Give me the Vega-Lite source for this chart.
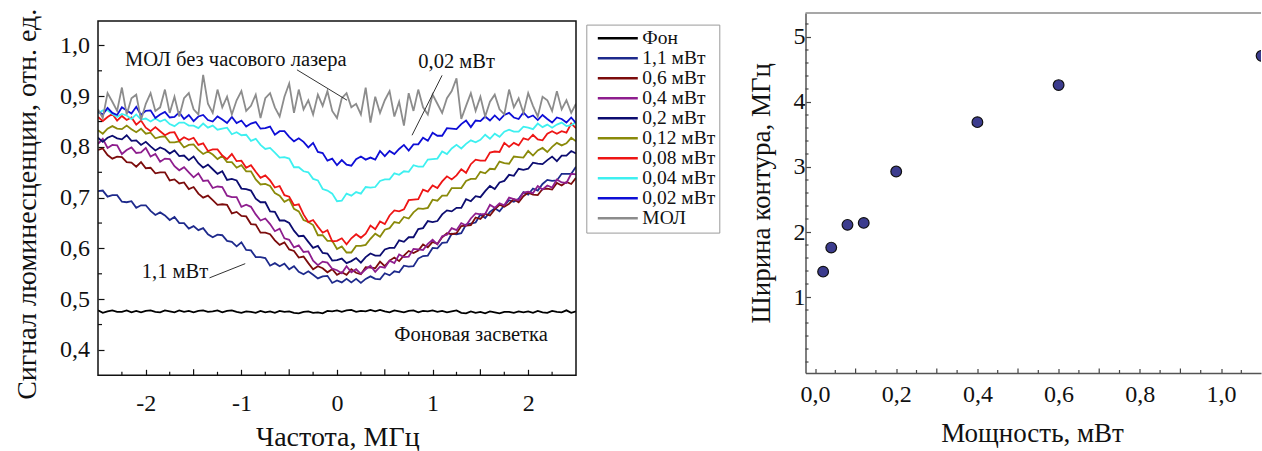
{
"$schema": "https://vega.github.io/schema/vega-lite/v6.json",
"background": "white",
"padding": {"left": 13, "top": 8, "right": 0, "bottom": 0},
"spacing": 169.5,
"config": {
  "font": "Liberation Serif",
  "view": {"stroke": null},
  "axis": {"grid": false, "labelFont": "Liberation Serif", "titleFont": "Liberation Serif", "labelColor": "#111", "titleColor": "#111", "titleFontWeight": "normal", "labelFontSize": 24, "titleFontSize": 28, "labelOverlap": false, "labelFlush": false, "labelBound": false, "tickColor": "#111", "tickWidth": 1.2}
},
"hconcat": [
{
  "width": 478, "height": 362.3,
  "data": {"values": [
{"x":-2.5,"f":0.478,"p11":0.713,"p06":0.794,"p04":0.806,"p02":0.818,"p012":0.833,"p008":0.859,"p004":0.866,"p002":0.870,"m":0.874},
{"x":-2.45,"f":0.473,"p11":0.714,"p06":0.797,"p04":0.816,"p02":0.810,"p012":0.826,"p008":0.851,"p004":0.872,"p002":0.864,"m":0.857},
{"x":-2.4,"f":0.476,"p11":0.702,"p06":0.784,"p04":0.798,"p02":0.818,"p012":0.836,"p008":0.859,"p004":0.872,"p002":0.877,"m":0.906},
{"x":-2.35,"f":0.478,"p11":0.705,"p06":0.777,"p04":0.804,"p02":0.822,"p012":0.841,"p008":0.865,"p004":0.865,"p002":0.867,"m":0.889},
{"x":-2.3,"f":0.475,"p11":0.705,"p06":0.781,"p04":0.803,"p02":0.817,"p012":0.836,"p008":0.852,"p004":0.859,"p002":0.863,"m":0.871},
{"x":-2.25,"f":0.475,"p11":0.692,"p06":0.780,"p04":0.786,"p02":0.815,"p012":0.835,"p008":0.861,"p004":0.865,"p002":0.878,"m":0.917},
{"x":-2.2,"f":0.478,"p11":0.691,"p06":0.770,"p04":0.794,"p02":0.823,"p012":0.842,"p008":0.853,"p004":0.862,"p002":0.872,"m":0.864},
{"x":-2.15,"f":0.474,"p11":0.693,"p06":0.769,"p04":0.799,"p02":0.812,"p012":0.835,"p008":0.858,"p004":0.855,"p002":0.866,"m":0.896},
{"x":-2.1,"f":0.477,"p11":0.680,"p06":0.761,"p04":0.788,"p02":0.813,"p012":0.829,"p008":0.844,"p004":0.864,"p002":0.879,"m":0.903},
{"x":-2.05,"f":0.474,"p11":0.685,"p06":0.770,"p04":0.789,"p02":0.804,"p012":0.836,"p008":0.852,"p004":0.854,"p002":0.863,"m":0.853},
{"x":-2.0,"f":0.477,"p11":0.685,"p06":0.758,"p04":0.798,"p02":0.810,"p012":0.826,"p008":0.838,"p004":0.856,"p002":0.871,"m":0.885},
{"x":-1.95,"f":0.478,"p11":0.674,"p06":0.759,"p04":0.781,"p02":0.801,"p012":0.828,"p008":0.831,"p004":0.850,"p002":0.872,"m":0.906},
{"x":-1.9,"f":0.475,"p11":0.666,"p06":0.748,"p04":0.786,"p02":0.793,"p012":0.817,"p008":0.839,"p004":0.856,"p002":0.857,"m":0.871},
{"x":-1.85,"f":0.474,"p11":0.671,"p06":0.750,"p04":0.771,"p02":0.799,"p012":0.820,"p008":0.831,"p004":0.850,"p002":0.864,"m":0.878},
{"x":-1.8,"f":0.478,"p11":0.665,"p06":0.750,"p04":0.777,"p02":0.795,"p012":0.821,"p008":0.823,"p004":0.854,"p002":0.869,"m":0.913},
{"x":-1.75,"f":0.476,"p11":0.656,"p06":0.734,"p04":0.776,"p02":0.787,"p012":0.809,"p008":0.828,"p004":0.845,"p002":0.858,"m":0.867},
{"x":-1.7,"f":0.474,"p11":0.662,"p06":0.736,"p04":0.762,"p02":0.793,"p012":0.809,"p008":0.829,"p004":0.841,"p002":0.859,"m":0.899},
{"x":-1.65,"f":0.478,"p11":0.650,"p06":0.728,"p04":0.754,"p02":0.782,"p012":0.811,"p008":0.812,"p004":0.848,"p002":0.868,"m":0.860},
{"x":-1.6,"f":0.475,"p11":0.650,"p06":0.730,"p04":0.760,"p02":0.783,"p012":0.799,"p008":0.819,"p004":0.848,"p002":0.855,"m":0.896},
{"x":-1.55,"f":0.477,"p11":0.639,"p06":0.717,"p04":0.750,"p02":0.774,"p012":0.804,"p008":0.814,"p004":0.842,"p002":0.863,"m":0.906},
{"x":-1.5,"f":0.474,"p11":0.644,"p06":0.721,"p04":0.740,"p02":0.781,"p012":0.805,"p008":0.818,"p004":0.842,"p002":0.851,"m":0.874},
{"x":-1.45,"f":0.477,"p11":0.636,"p06":0.708,"p04":0.748,"p02":0.768,"p012":0.794,"p008":0.804,"p004":0.837,"p002":0.860,"m":0.864},
{"x":-1.4,"f":0.478,"p11":0.640,"p06":0.700,"p04":0.733,"p02":0.759,"p012":0.786,"p008":0.807,"p004":0.846,"p002":0.863,"m":0.942},
{"x":-1.35,"f":0.475,"p11":0.628,"p06":0.704,"p04":0.734,"p02":0.765,"p012":0.791,"p008":0.792,"p004":0.838,"p002":0.853,"m":0.885},
{"x":-1.3,"f":0.476,"p11":0.622,"p06":0.695,"p04":0.719,"p02":0.756,"p012":0.785,"p008":0.795,"p004":0.842,"p002":0.850,"m":0.867},
{"x":-1.25,"f":0.478,"p11":0.627,"p06":0.686,"p04":0.722,"p02":0.747,"p012":0.776,"p008":0.795,"p004":0.834,"p002":0.860,"m":0.913},
{"x":-1.2,"f":0.474,"p11":0.626,"p06":0.687,"p04":0.721,"p02":0.752,"p012":0.782,"p008":0.783,"p004":0.836,"p002":0.854,"m":0.878},
{"x":-1.15,"f":0.477,"p11":0.615,"p06":0.686,"p04":0.704,"p02":0.735,"p012":0.770,"p008":0.776,"p004":0.838,"p002":0.847,"m":0.899},
{"x":-1.1,"f":0.478,"p11":0.613,"p06":0.669,"p04":0.701,"p02":0.737,"p012":0.770,"p008":0.786,"p004":0.825,"p002":0.859,"m":0.864},
{"x":-1.05,"f":0.475,"p11":0.604,"p06":0.672,"p04":0.701,"p02":0.734,"p012":0.759,"p008":0.772,"p004":0.829,"p002":0.847,"m":0.892},
{"x":-1.0,"f":0.473,"p11":0.612,"p06":0.664,"p04":0.682,"p02":0.718,"p012":0.764,"p008":0.773,"p004":0.823,"p002":0.852,"m":0.910},
{"x":-0.95,"f":0.476,"p11":0.597,"p06":0.663,"p04":0.686,"p02":0.717,"p012":0.752,"p008":0.759,"p004":0.824,"p002":0.840,"m":0.871},
{"x":-0.9,"f":0.475,"p11":0.596,"p06":0.648,"p04":0.682,"p02":0.714,"p012":0.752,"p008":0.764,"p004":0.812,"p002":0.846,"m":0.881},
{"x":-0.85,"f":0.473,"p11":0.583,"p06":0.647,"p04":0.667,"p02":0.698,"p012":0.736,"p008":0.751,"p004":0.816,"p002":0.849,"m":0.903},
{"x":-0.8,"f":0.477,"p11":0.583,"p06":0.631,"p04":0.655,"p02":0.691,"p012":0.726,"p008":0.739,"p004":0.804,"p002":0.836,"m":0.857},
{"x":-0.75,"f":0.474,"p11":0.581,"p06":0.631,"p04":0.659,"p02":0.691,"p012":0.727,"p008":0.744,"p004":0.796,"p002":0.837,"m":0.896},
{"x":-0.7,"f":0.476,"p11":0.566,"p06":0.628,"p04":0.648,"p02":0.673,"p012":0.723,"p008":0.734,"p004":0.798,"p002":0.840,"m":0.906},
{"x":-0.65,"f":0.473,"p11":0.571,"p06":0.616,"p04":0.634,"p02":0.672,"p012":0.709,"p008":0.720,"p004":0.789,"p002":0.824,"m":0.878},
{"x":-0.6,"f":0.477,"p11":0.565,"p06":0.607,"p04":0.639,"p02":0.655,"p012":0.704,"p008":0.723,"p004":0.779,"p002":0.831,"m":0.860},
{"x":-0.55,"f":0.475,"p11":0.570,"p06":0.612,"p04":0.620,"p02":0.655,"p012":0.692,"p008":0.705,"p004":0.780,"p002":0.831,"m":0.899},
{"x":-0.5,"f":0.476,"p11":0.559,"p06":0.598,"p04":0.617,"p02":0.650,"p012":0.697,"p008":0.702,"p004":0.777,"p002":0.820,"m":0.925},
{"x":-0.45,"f":0.473,"p11":0.565,"p06":0.595,"p04":0.602,"p02":0.635,"p012":0.678,"p008":0.685,"p004":0.760,"p002":0.811,"m":0.867},
{"x":-0.4,"f":0.472,"p11":0.554,"p06":0.582,"p04":0.606,"p02":0.624,"p012":0.673,"p008":0.687,"p004":0.760,"p002":0.817,"m":0.913},
{"x":-0.35,"f":0.475,"p11":0.549,"p06":0.584,"p04":0.593,"p02":0.625,"p012":0.656,"p008":0.667,"p004":0.752,"p002":0.810,"m":0.874},
{"x":-0.3,"f":0.476,"p11":0.555,"p06":0.571,"p04":0.594,"p02":0.613,"p012":0.652,"p008":0.652,"p004":0.750,"p002":0.799,"m":0.892},
{"x":-0.25,"f":0.473,"p11":0.548,"p06":0.559,"p04":0.576,"p02":0.601,"p012":0.646,"p008":0.656,"p004":0.737,"p002":0.808,"m":0.864},
{"x":-0.2,"f":0.474,"p11":0.541,"p06":0.565,"p04":0.567,"p02":0.605,"p012":0.626,"p008":0.643,"p004":0.734,"p002":0.790,"m":0.903},
{"x":-0.15,"f":0.472,"p11":0.545,"p06":0.561,"p04":0.574,"p02":0.591,"p012":0.626,"p008":0.631,"p004":0.717,"p002":0.788,"m":0.881},
{"x":-0.1,"f":0.477,"p11":0.546,"p06":0.553,"p04":0.572,"p02":0.590,"p012":0.615,"p008":0.636,"p004":0.714,"p002":0.773,"m":0.910},
{"x":-0.05,"f":0.476,"p11":0.532,"p06":0.559,"p04":0.560,"p02":0.576,"p012":0.615,"p008":0.614,"p004":0.708,"p002":0.777,"m":0.871},
{"x":0.0,"f":0.478,"p11":0.537,"p06":0.548,"p04":0.557,"p02":0.577,"p012":0.599,"p008":0.615,"p004":0.693,"p002":0.764,"m":0.857},
{"x":0.05,"f":0.475,"p11":0.533,"p06":0.553,"p04":0.551,"p02":0.580,"p012":0.604,"p008":0.620,"p004":0.694,"p002":0.774,"m":0.896},
{"x":0.1,"f":0.478,"p11":0.540,"p06":0.548,"p04":0.565,"p02":0.571,"p012":0.592,"p008":0.608,"p004":0.708,"p002":0.765,"m":0.906},
{"x":0.15,"f":0.479,"p11":0.533,"p06":0.559,"p04":0.553,"p02":0.575,"p012":0.592,"p008":0.620,"p004":0.704,"p002":0.763,"m":0.878},
{"x":0.2,"f":0.475,"p11":0.540,"p06":0.552,"p04":0.559,"p02":0.581,"p012":0.605,"p008":0.628,"p004":0.711,"p002":0.776,"m":0.885},
{"x":0.25,"f":0.477,"p11":0.532,"p06":0.549,"p04":0.550,"p02":0.572,"p012":0.605,"p008":0.621,"p004":0.708,"p002":0.781,"m":0.864},
{"x":0.3,"f":0.476,"p11":0.540,"p06":0.563,"p04":0.559,"p02":0.583,"p012":0.607,"p008":0.629,"p004":0.721,"p002":0.775,"m":0.917},
{"x":0.35,"f":0.479,"p11":0.545,"p06":0.562,"p04":0.566,"p02":0.590,"p012":0.619,"p008":0.645,"p004":0.720,"p002":0.779,"m":0.848},
{"x":0.4,"f":0.476,"p11":0.540,"p06":0.561,"p04":0.554,"p02":0.586,"p012":0.629,"p008":0.638,"p004":0.721,"p002":0.775,"m":0.899},
{"x":0.45,"f":0.479,"p11":0.539,"p06":0.574,"p04":0.564,"p02":0.586,"p012":0.623,"p008":0.653,"p004":0.733,"p002":0.792,"m":0.867},
{"x":0.5,"f":0.476,"p11":0.551,"p06":0.565,"p04":0.562,"p02":0.598,"p012":0.637,"p008":0.648,"p004":0.736,"p002":0.782,"m":0.892},
{"x":0.55,"f":0.474,"p11":0.547,"p06":0.576,"p04":0.576,"p02":0.601,"p012":0.640,"p008":0.665,"p004":0.736,"p002":0.792,"m":0.910},
{"x":0.6,"f":0.478,"p11":0.555,"p06":0.582,"p04":0.571,"p02":0.601,"p012":0.652,"p008":0.675,"p004":0.748,"p002":0.786,"m":0.860},
{"x":0.65,"f":0.476,"p11":0.553,"p06":0.575,"p04":0.588,"p02":0.616,"p012":0.650,"p008":0.673,"p004":0.745,"p002":0.796,"m":0.889},
{"x":0.7,"f":0.474,"p11":0.566,"p06":0.586,"p04":0.583,"p02":0.613,"p012":0.662,"p008":0.677,"p004":0.752,"p002":0.804,"m":0.842},
{"x":0.75,"f":0.477,"p11":0.564,"p06":0.595,"p04":0.584,"p02":0.622,"p012":0.659,"p008":0.695,"p004":0.751,"p002":0.793,"m":0.906},
{"x":0.8,"f":0.478,"p11":0.565,"p06":0.591,"p04":0.599,"p02":0.622,"p012":0.671,"p008":0.696,"p004":0.764,"p002":0.805,"m":0.871},
{"x":0.85,"f":0.474,"p11":0.580,"p06":0.596,"p04":0.598,"p02":0.638,"p012":0.679,"p008":0.697,"p004":0.761,"p002":0.805,"m":0.913},
{"x":0.9,"f":0.477,"p11":0.585,"p06":0.608,"p04":0.597,"p02":0.640,"p012":0.678,"p008":0.716,"p004":0.761,"p002":0.818,"m":0.878},
{"x":0.95,"f":0.476,"p11":0.586,"p06":0.602,"p04":0.609,"p02":0.654,"p012":0.680,"p008":0.712,"p004":0.775,"p002":0.812,"m":0.864},
{"x":1.0,"f":0.478,"p11":0.601,"p06":0.613,"p04":0.617,"p02":0.652,"p012":0.696,"p008":0.724,"p004":0.776,"p002":0.828,"m":0.903},
{"x":1.05,"f":0.475,"p11":0.600,"p06":0.609,"p04":0.608,"p02":0.654,"p012":0.694,"p008":0.719,"p004":0.777,"p002":0.822,"m":0.885},
{"x":1.1,"f":0.477,"p11":0.611,"p06":0.622,"p04":0.624,"p02":0.667,"p012":0.704,"p008":0.732,"p004":0.791,"p002":0.822,"m":0.867},
{"x":1.15,"f":0.474,"p11":0.612,"p06":0.630,"p04":0.627,"p02":0.675,"p012":0.704,"p008":0.742,"p004":0.786,"p002":0.837,"m":0.896},
{"x":1.2,"f":0.476,"p11":0.629,"p06":0.628,"p04":0.640,"p02":0.673,"p012":0.719,"p008":0.736,"p004":0.797,"p002":0.836,"m":0.910},
{"x":1.25,"f":0.478,"p11":0.628,"p06":0.630,"p04":0.636,"p02":0.680,"p012":0.719,"p008":0.744,"p004":0.804,"p002":0.835,"m":0.935},
{"x":1.3,"f":0.473,"p11":0.630,"p06":0.644,"p04":0.650,"p02":0.680,"p012":0.719,"p008":0.756,"p004":0.797,"p002":0.845,"m":0.855},
{"x":1.35,"f":0.472,"p11":0.647,"p06":0.645,"p04":0.645,"p02":0.697,"p012":0.733,"p008":0.749,"p004":0.806,"p002":0.852,"m":0.881},
{"x":1.4,"f":0.476,"p11":0.649,"p06":0.646,"p04":0.659,"p02":0.693,"p012":0.737,"p008":0.766,"p004":0.813,"p002":0.839,"m":0.906},
{"x":1.45,"f":0.473,"p11":0.651,"p06":0.661,"p04":0.669,"p02":0.703,"p012":0.737,"p008":0.775,"p004":0.809,"p002":0.852,"m":0.871},
{"x":1.5,"f":0.475,"p11":0.667,"p06":0.658,"p04":0.667,"p02":0.701,"p012":0.751,"p008":0.773,"p004":0.814,"p002":0.851,"m":0.899},
{"x":1.55,"f":0.472,"p11":0.660,"p06":0.668,"p04":0.668,"p02":0.713,"p012":0.748,"p008":0.773,"p004":0.824,"p002":0.860,"m":0.860},
{"x":1.6,"f":0.476,"p11":0.672,"p06":0.665,"p04":0.686,"p02":0.723,"p012":0.757,"p008":0.789,"p004":0.816,"p002":0.852,"m":0.889},
{"x":1.65,"f":0.474,"p11":0.679,"p06":0.677,"p04":0.680,"p02":0.717,"p012":0.756,"p008":0.791,"p004":0.826,"p002":0.862,"m":0.903},
{"x":1.7,"f":0.472,"p11":0.673,"p06":0.686,"p04":0.689,"p02":0.730,"p012":0.771,"p008":0.790,"p004":0.820,"p002":0.853,"m":0.874},
{"x":1.75,"f":0.475,"p11":0.685,"p06":0.682,"p04":0.685,"p02":0.733,"p012":0.768,"p008":0.808,"p004":0.830,"p002":0.863,"m":0.864},
{"x":1.8,"f":0.475,"p11":0.695,"p06":0.688,"p04":0.700,"p02":0.745,"p012":0.767,"p008":0.800,"p004":0.834,"p002":0.867,"m":0.913},
{"x":1.85,"f":0.473,"p11":0.692,"p06":0.697,"p04":0.697,"p02":0.743,"p012":0.781,"p008":0.808,"p004":0.830,"p002":0.858,"m":0.878},
{"x":1.9,"f":0.476,"p11":0.698,"p06":0.691,"p04":0.695,"p02":0.757,"p012":0.780,"p008":0.803,"p004":0.830,"p002":0.855,"m":0.896},
{"x":1.95,"f":0.474,"p11":0.711,"p06":0.703,"p04":0.710,"p02":0.755,"p012":0.779,"p008":0.817,"p004":0.840,"p002":0.868,"m":0.867},
{"x":2.0,"f":0.476,"p11":0.706,"p06":0.710,"p04":0.712,"p02":0.757,"p012":0.792,"p008":0.814,"p004":0.838,"p002":0.858,"m":0.906},
{"x":2.05,"f":0.473,"p11":0.718,"p06":0.706,"p04":0.709,"p02":0.769,"p012":0.783,"p008":0.824,"p004":0.835,"p002":0.862,"m":0.881},
{"x":2.1,"f":0.477,"p11":0.714,"p06":0.705,"p04":0.723,"p02":0.767,"p012":0.793,"p008":0.815,"p004":0.846,"p002":0.853,"m":0.860},
{"x":2.15,"f":0.474,"p11":0.727,"p06":0.717,"p04":0.716,"p02":0.766,"p012":0.798,"p008":0.813,"p004":0.839,"p002":0.863,"m":0.899},
{"x":2.2,"f":0.473,"p11":0.735,"p06":0.718,"p04":0.724,"p02":0.774,"p012":0.790,"p008":0.826,"p004":0.844,"p002":0.855,"m":0.892},
{"x":2.25,"f":0.477,"p11":0.733,"p06":0.716,"p04":0.720,"p02":0.781,"p012":0.800,"p008":0.831,"p004":0.838,"p002":0.848,"m":0.871},
{"x":2.3,"f":0.475,"p11":0.734,"p06":0.729,"p04":0.736,"p02":0.772,"p012":0.808,"p008":0.826,"p004":0.844,"p002":0.858,"m":0.910},
{"x":2.35,"f":0.474,"p11":0.747,"p06":0.724,"p04":0.730,"p02":0.783,"p012":0.803,"p008":0.831,"p004":0.848,"p002":0.855,"m":0.874},
{"x":2.4,"f":0.478,"p11":0.747,"p06":0.731,"p04":0.729,"p02":0.783,"p012":0.807,"p008":0.828,"p004":0.841,"p002":0.848,"m":0.892},
{"x":2.45,"f":0.473,"p11":0.747,"p06":0.727,"p04":0.747,"p02":0.792,"p012":0.818,"p008":0.846,"p004":0.843,"p002":0.858,"m":0.867},
{"x":2.5,"f":0.476,"p11":0.761,"p06":0.739,"p04":0.746,"p02":0.787,"p012":0.811,"p008":0.837,"p004":0.849,"p002":0.847,"m":0.885}
  ]},
  "layer": [
    {
      "transform": [{"fold": ["f","p11","p06","p04","p02","p012","p008","p004","p002","m"], "as": ["s","v"]}],
      "mark": {"type": "line", "strokeWidth": 1.8, "clip": true},
      "encoding": {
        "x": {"field": "x", "type": "quantitative",
          "scale": {"domain": [-2.5, 2.5], "nice": false, "zero": false},
          "axis": {"title": "Частота, МГц", "domain": false, "labelOverlap": false,
            "values": [-2,-1,0,1,2],
            "format": "d",
            "labelExpr": "replace(datum.label, '\u2212', '-')",
            "tickSize": -6,
            "labelPadding": 22,
            "titleX": 239.3, "titleY": 62, "titleAngle": 0, "titleAlign": "center", "titleBaseline": "middle"}},
        "y": {"field": "v", "type": "quantitative",
          "scale": {"domain": [0.35, 1.0639], "nice": false, "zero": false},
          "axis": {"title": "Сигнал люминесценции, отн. ед.", "domain": false, "labelOverlap": false,
            "values": [0.4,0.5,0.6,0.7,0.8,0.9,1.0],
            "labelExpr": "replace(format(datum.value, '.1f'), '.', ',')",
            "tickSize": -6,
            "labelPadding": 14.4,
            "titleX": -70.7, "titleY": 190.8, "titleAngle": -90, "titleAlign": "center", "titleBaseline": "middle"}},
        "color": {"field": "s", "type": "nominal",
          "scale": {"domain": ["f","p11","p06","p04","p02","p012","p008","p004","p002","m"],
                    "range": ["#000000","#1e2a8c","#7c0c0c","#8e1e8e","#0c0c70","#8a8a0a","#ee1515","#3ef0f0","#0e0ed6","#8c8c8c"]},
          "legend": {"orient": "none", "legendX": 488.3, "legendY": 11.6, "title": null,
            "labelExpr": "datum.label == 'f' ? 'Фон' : datum.label == 'p11' ? '1,1 мВт' : datum.label == 'p06' ? '0,6 мВт' : datum.label == 'p04' ? '0,4 мВт' : datum.label == 'p02' ? '0,2 мВт' : datum.label == 'p012' ? '0,12 мВт' : datum.label == 'p008' ? '0,08 мВт' : datum.label == 'p004' ? '0,04 мВт' : datum.label == 'p002' ? '0,02 мВт' : 'МОЛ'",
            "symbolType": "M-0.45,0H7.55", "symbolSize": 100, "symbolStrokeWidth": 2.5,
            "labelFont": "Liberation Serif", "labelFontSize": 19.5, "labelColor": "#111", "labelOffset": 32.5, "labelLimit": 0,
            "rowPadding": -1, "padding": 4, "strokeColor": "#9a9a9a", "fillColor": "white"}}
      }
    },
    {
      "data": {"values": [{}]},
      "mark": {"type": "rect", "fill": "transparent", "stroke": "#111", "strokeWidth": 1.5},
      "encoding": {
        "x": {"datum": -2.5, "type": "quantitative"},
        "x2": {"datum": 2.5},
        "y": {"datum": 0.35, "type": "quantitative"},
        "y2": {"datum": 1.048}
      }
    },
    {
      "data": {"values": [{"v": -2.25},{"v": -1.75},{"v": -1.25},{"v": -0.75},{"v": -0.25},{"v": 0.25},{"v": 0.75},{"v": 1.25},{"v": 1.75},{"v": 2.25}]},
      "mark": {"type": "rule", "stroke": "#111", "strokeWidth": 1.2},
      "encoding": {
        "x": {"field": "v", "type": "quantitative"},
        "y": {"datum": 0.35, "type": "quantitative"},
        "y2": {"datum": 0.3569}
      }
    },
    {
      "data": {"values": [{"v": -1.5},{"v": -0.5},{"v": 0.5},{"v": 1.5}]},
      "mark": {"type": "rule", "stroke": "#111", "strokeWidth": 1.2},
      "encoding": {
        "x": {"field": "v", "type": "quantitative"},
        "y": {"datum": 0.35, "type": "quantitative"},
        "y2": {"datum": 0.3618}
      }
    },
    {
      "data": {"values": [{"v": 0.45},{"v": 0.55},{"v": 0.65},{"v": 0.75},{"v": 0.85},{"v": 0.95}]},
      "mark": {"type": "rule", "stroke": "#111", "strokeWidth": 1.2},
      "encoding": {
        "y": {"field": "v", "type": "quantitative"},
        "x": {"datum": -2.5, "type": "quantitative"},
        "x2": {"datum": -2.4581}
      }
    },
    {
      "data": {"values": [
        {"a": -0.419, "b": 0.952, "c": 0.105, "d": 0.892},
        {"a": 1.099, "b": 0.941, "c": 0.785, "d": 0.823},
        {"a": -1.334, "b": 0.542, "c": -0.96, "d": 0.57}
      ]},
      "mark": {"type": "rule", "stroke": "#333", "strokeWidth": 1},
      "encoding": {
        "x": {"field": "a", "type": "quantitative"},
        "x2": {"field": "c"},
        "y": {"field": "b", "type": "quantitative"},
        "y2": {"field": "d"}
      }
    },
    {
      "data": {"values": [
        {"tx": -2.217, "ty": 0.9718, "t": "МОЛ без часового лазера"},
        {"tx": 0.851, "ty": 0.9671, "t": "0,02 мВт"},
        {"tx": -2.042, "ty": 0.5533, "t": "1,1 мВт"},
        {"tx": 0.6, "ty": 0.4286, "t": "Фоновая засветка"}
      ]},
      "mark": {"type": "text", "align": "left", "baseline": "middle", "font": "Liberation Serif", "fontSize": 20.5, "color": "#111"},
      "encoding": {
        "x": {"field": "tx", "type": "quantitative"},
        "y": {"field": "ty", "type": "quantitative"},
        "text": {"field": "t"}
      }
    }
  ]
},
{
  "width": 455.5, "height": 360,
  "layer": [
    {
      "data": {"values": [
        {"p": 0.02, "w": 1.39},
        {"p": 0.04, "w": 1.76},
        {"p": 0.08, "w": 2.11},
        {"p": 0.12, "w": 2.14},
        {"p": 0.2, "w": 2.93},
        {"p": 0.4, "w": 3.69},
        {"p": 0.6, "w": 4.26},
        {"p": 1.1, "w": 4.71}
      ]},
      "mark": {"type": "circle", "size": 115, "fill": "#3c3c8e", "stroke": "#111", "strokeWidth": 1.2, "opacity": 1, "clip": true},
      "encoding": {
        "x": {"field": "p", "type": "quantitative",
          "scale": {"domain": [-0.0234, 1.0985], "nice": false, "zero": false},
          "axis": {"title": "Мощность, мВт", "domain": true, "domainColor": "#555", "domainWidth": 1.5, "labelOverlap": false,
            "values": [0,0.2,0.4,0.6,0.8,1],
            "labelExpr": "replace(format(datum.value, '.1f'), '.', ',')",
            "tickSize": -4.5,
            "tickColor": "#444",
            "labelPadding": 14,
            "titleFontSize": 27,
            "titleX": 226.5, "titleY": 60.3, "titleAngle": 0, "titleAlign": "center", "titleBaseline": "middle"}},
        "y": {"field": "w", "type": "quantitative",
          "scale": {"domain": [-0.169, 5.369], "nice": false, "zero": false},
          "axis": {"title": "Ширина контура, МГц", "domain": true, "domainColor": "#555", "domainWidth": 1.5, "labelOverlap": false,
            "values": [1,2,3,4,5],
            "format": "d",
            "tickSize": -5,
            "tickColor": "#444",
            "labelPadding": 5.6,
            "titleFontSize": 27,
            "titleX": -44.5, "titleY": 179.8, "titleAngle": -90, "titleAlign": "center", "titleBaseline": "middle"}}
      }
    },
    {
      "data": {"values": [{}]},
      "mark": {"type": "rule", "stroke": "#8a8a8a", "strokeWidth": 1.5},
      "encoding": {
        "x": {"datum": -0.0234, "type": "quantitative"},
        "x2": {"datum": 1.0985},
        "y": {"datum": 5.369, "type": "quantitative"}
      }
    },
    {
      "data": {"values": [{"v": 0.1},{"v": 0.3},{"v": 0.5},{"v": 0.7},{"v": 0.9}]},
      "mark": {"type": "rule", "stroke": "#444", "strokeWidth": 1.2},
      "encoding": {
        "x": {"field": "v", "type": "quantitative"},
        "y": {"datum": -0.169, "type": "quantitative"},
        "y2": {"datum": -0.0998}
      }
    },
    {
      "data": {"values": [{"v": 0.05},{"v": 0.15},{"v": 0.25},{"v": 0.35},{"v": 0.45},{"v": 0.55},{"v": 0.65},{"v": 0.75},{"v": 0.85},{"v": 0.95},{"v": 1.05}]},
      "mark": {"type": "rule", "stroke": "#444", "strokeWidth": 1.2},
      "encoding": {
        "x": {"field": "v", "type": "quantitative"},
        "y": {"datum": -0.169, "type": "quantitative"},
        "y2": {"datum": -0.1228}
      }
    },
    {
      "data": {"values": [{"v": 0},{"v": 0.2},{"v": 0.4},{"v": 0.6},{"v": 0.8},{"v": 1.2},{"v": 1.4},{"v": 1.6},{"v": 1.8},{"v": 2.2},{"v": 2.4},{"v": 2.6},{"v": 2.8},{"v": 3.2},{"v": 3.4},{"v": 3.6},{"v": 3.8},{"v": 4.2},{"v": 4.4},{"v": 4.6},{"v": 4.8},{"v": 5.2}]},
      "mark": {"type": "rule", "stroke": "#444", "strokeWidth": 1.2},
      "encoding": {
        "y": {"field": "v", "type": "quantitative"},
        "x": {"datum": -0.0234, "type": "quantitative"},
        "x2": {"datum": -0.016}
      }
    }
  ]
}
]
}
